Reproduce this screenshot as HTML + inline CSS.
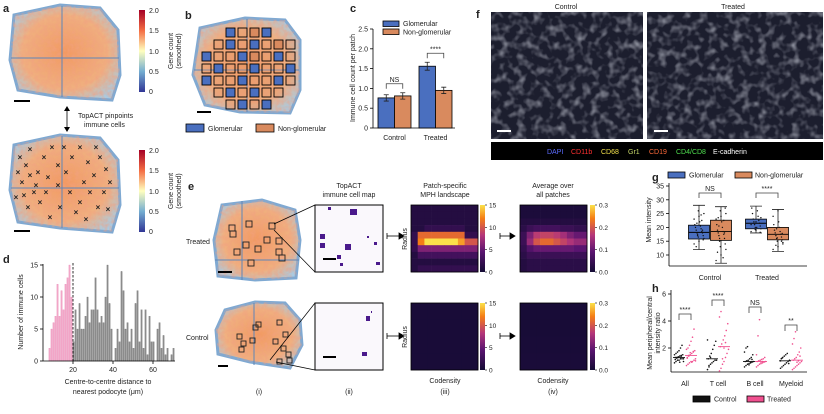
<!DOCTYPE html>
<html><head><meta charset="utf-8"><style>
html,body{margin:0;padding:0;background:#fff;}
svg{display:block;font-family:"Liberation Sans",Arial,sans-serif;}
text{fill:#222;}
</style></head><body>
<svg id="fig" width="824" height="414" viewBox="0 0 824 414" xmlns="http://www.w3.org/2000/svg">
<defs>
<linearGradient id="cbar" x1="0" y1="1" x2="0" y2="0">
<stop offset="0" stop-color="#313695"/><stop offset="0.25" stop-color="#74add1"/><stop offset="0.5" stop-color="#ffffbf"/><stop offset="0.75" stop-color="#f46d43"/><stop offset="1" stop-color="#a50026"/></linearGradient>
<linearGradient id="inf" x1="0" y1="1" x2="0" y2="0">
<stop offset="0" stop-color="#140b34"/><stop offset="0.3" stop-color="#5a1470"/><stop offset="0.55" stop-color="#b5367a"/><stop offset="0.8" stop-color="#f57d15"/><stop offset="1" stop-color="#fbe14a"/></linearGradient>
<radialGradient id="tis" cx="0.5" cy="0.5" r="0.6"><stop offset="0" stop-color="#f29a62"/><stop offset="0.65" stop-color="#f0b080"/><stop offset="1" stop-color="#a9cbe3"/></radialGradient>
<filter id="tex" x="0" y="0" width="1" height="1"><feTurbulence type="fractalNoise" baseFrequency="0.12" numOctaves="2" seed="3"/><feColorMatrix type="matrix" values="0 0 0 0 0.7  0 0 0 0 0.72  0 0 0 0 0.8  0 0 0 2.2 -1.0"/></filter>
<filter id="tex2" x="0" y="0" width="1" height="1"><feTurbulence type="fractalNoise" baseFrequency="0.25" numOctaves="2" seed="7"/><feColorMatrix type="matrix" values="0 0 0 0 0.88  0 0 0 0 0.35  0 0 0 0 0.22  0 0 0 1.6 -0.55"/></filter>
<clipPath id="clipA1"><polygon points="14,15 60,5 100,8 118,30 120,75 112,100 60,97 18,90 10,60"/></clipPath>
<clipPath id="clipA2"><polygon points="14,145 60,135 100,138 118,160 120,205 112,232 60,228 18,222 10,190"/></clipPath>
<clipPath id="clipB"><polygon points="200,28 245,18 285,20 300,40 300,90 290,113 240,112 205,105 193,75"/></clipPath>
<clipPath id="clipE1"><polygon points="222,205 262,200 295,210 300,240 296,278 255,280 218,276 214,240"/></clipPath>
<clipPath id="clipE2"><polygon points="225,310 255,302 285,303 300,320 302,345 290,368 250,362 218,354 216,330"/></clipPath>
</defs>

<!-- Panel a -->
<text x="3" y="12" font-size="11" font-weight="bold">a</text>
<g>
<polygon points="14,15 60,5 100,8 118,30 120,75 112,100 60,97 18,90 10,60" fill="url(#tis)" stroke="#7fa9d2" stroke-width="3"/>
<rect x="0" y="0" width="130" height="110" filter="url(#tex2)" clip-path="url(#clipA1)" opacity="0.75"/>
<line x1="62" y1="6" x2="62" y2="97" stroke="#5e86b8" stroke-width="1"/><line x1="11" y1="58" x2="119" y2="58" stroke="#5e86b8" stroke-width="1"/>
</g>
<line x1="14" y1="101" x2="30" y2="101" stroke="#000" stroke-width="2"/>
<g>
<rect x="139" y="10" width="6" height="82" fill="url(#cbar)"/>
<g font-size="7"><text x="149" y="13">2.0</text><text x="149" y="33">1.5</text><text x="149" y="54">1.0</text><text x="149" y="74">0.5</text><text x="149" y="94">0</text></g>
<text transform="translate(173,51) rotate(-90)" font-size="7" text-anchor="middle">Gene count</text>
<text transform="translate(181,51) rotate(-90)" font-size="7" text-anchor="middle">(smoothed)</text>
</g>
<g>
<line x1="67" y1="108" x2="67" y2="130" stroke="#000" stroke-width="0.8"/><polygon points="64,127 70,127 67,132" fill="#000"/><polygon points="64,111 70,111 67,106" fill="#000"/>
<text x="78" y="118" font-size="7">TopACT pinpoints</text><text x="84" y="127" font-size="7">immune cells</text>
</g>
<g>
<polygon points="14,145 60,135 100,138 118,160 120,205 112,232 60,228 18,222 10,190" fill="url(#tis)" stroke="#7fa9d2" stroke-width="3"/>
<rect x="0" y="130" width="130" height="110" filter="url(#tex2)" clip-path="url(#clipA2)" opacity="0.75"/>
<line x1="62" y1="136" x2="62" y2="228" stroke="#5e86b8"/><line x1="11" y1="188" x2="119" y2="188" stroke="#5e86b8"/>
<g id="crosses" font-size="8" font-weight="bold"></g>
</g>
<line x1="14" y1="231" x2="30" y2="231" stroke="#000" stroke-width="2"/>
<g>
<rect x="139" y="150" width="6" height="82" fill="url(#cbar)"/>
<g font-size="7"><text x="149" y="153">2.0</text><text x="149" y="173">1.5</text><text x="149" y="194">1.0</text><text x="149" y="214">0.5</text><text x="149" y="234">0</text></g>
<text transform="translate(173,191) rotate(-90)" font-size="7" text-anchor="middle">Gene count</text>
<text transform="translate(181,191) rotate(-90)" font-size="7" text-anchor="middle">(smoothed)</text>
</g>

<!-- Panel b -->
<text x="185" y="19" font-size="11" font-weight="bold">b</text>
<g>
<polygon points="200,28 245,18 285,20 300,40 300,90 290,113 240,112 205,105 193,75" fill="url(#tis)" stroke="#7fa9d2" stroke-width="3"/>
<rect x="190" y="15" width="115" height="100" filter="url(#tex2)" clip-path="url(#clipB)" opacity="0.75"/>
<line x1="247" y1="19" x2="247" y2="112" stroke="#5e86b8"/><line x1="194" y1="70" x2="299" y2="70" stroke="#5e86b8"/>
<g id="bsquares"></g>
</g>
<line x1="197" y1="112" x2="211" y2="112" stroke="#000" stroke-width="2"/>
<g>
<rect x="186" y="124" width="18" height="8" fill="#4a6fbf" stroke="#000" stroke-width="0.8"/><text x="208" y="131" font-size="7">Glomerular</text>
<rect x="256" y="124" width="18" height="8" fill="#d98a5e" stroke="#000" stroke-width="0.8"/><text x="278" y="131" font-size="7">Non-glomerular</text>
</g>

<!-- Panel c -->
<text x="350" y="12" font-size="11" font-weight="bold">c</text>
<g id="chartC"></g>

<!-- Panel f -->
<text x="476" y="18" font-size="11" font-weight="bold">f</text>
<text x="566" y="9" font-size="7" text-anchor="middle">Control</text>
<text x="733" y="9" font-size="7" text-anchor="middle">Treated</text>
<g>
<rect x="491" y="12" width="152" height="127" fill="#1c1e2e"/>
<rect x="491" y="12" width="152" height="127" filter="url(#tex)" opacity="0.6"/>
<rect x="497" y="130" width="14" height="2" fill="#fff"/>
</g>
<g>
<rect x="647" y="12" width="176" height="127" fill="#1c1e2e"/>
<rect x="647" y="12" width="176" height="127" filter="url(#tex)" opacity="0.6"/>
<rect x="654" y="130" width="14" height="2" fill="#fff"/>
</g>
<g font-size="7">
<rect x="491" y="142" width="332" height="18" fill="#000"/>
<text x="547" y="154" style="fill:#5c6cff">DAPI</text>
<text x="571" y="154" style="fill:#ff3030">CD11b</text>
<text x="601" y="154" style="fill:#f2e04a">CD68</text>
<text x="628" y="154" style="fill:#c8d96a">Gr1</text>
<text x="649" y="154" style="fill:#ff6a3a">CD19</text>
<text x="676" y="154" style="fill:#4fe04f">CD4/CD8</text>
<text x="713" y="154" style="fill:#ffffff">E-cadherin</text>
</g>

<!-- Panel d -->
<text x="3" y="263" font-size="11" font-weight="bold">d</text>
<g id="chartD"></g>

<!-- Panel e -->
<text x="188" y="190" font-size="11" font-weight="bold">e</text>
<g font-size="7" text-anchor="middle">
<text x="349" y="188">TopACT</text><text x="349" y="197">immune cell map</text>
<text x="445" y="188">Patch-specific</text><text x="445" y="197">MPH landscape</text>
<text x="553" y="188">Average over</text><text x="553" y="197">all patches</text>
<text x="445" y="383">Codensity</text><text x="553" y="383">Codensity</text>
<text x="259" y="394">(i)</text><text x="349" y="394">(ii)</text><text x="445" y="394">(iii)</text><text x="553" y="394">(iv)</text>
</g>
<text x="186" y="244" font-size="7">Treated</text>
<text x="186" y="340" font-size="7">Control</text>
<g>
<polygon points="222,205 262,200 295,210 300,240 296,278 255,280 218,276 214,240" fill="url(#tis)" stroke="#7fa9d2" stroke-width="3"/>
<rect x="210" y="195" width="95" height="90" filter="url(#tex2)" clip-path="url(#clipE1)" opacity="0.75"/>
<line x1="242" y1="201" x2="242" y2="280" stroke="#5e86b8"/><line x1="215" y1="260" x2="299" y2="260" stroke="#5e86b8"/>
<g fill="none" stroke="#222" stroke-width="0.9"><rect x="229" y="225" width="6" height="6"/><rect x="246" y="221" width="6" height="6"/><rect x="269" y="223" width="6" height="6"/><rect x="243" y="242" width="6" height="6"/><rect x="264" y="237" width="6" height="6"/><rect x="276" y="238" width="6" height="6"/><rect x="255" y="246" width="6" height="6"/><rect x="234" y="249" width="6" height="6"/><rect x="276" y="249" width="6" height="6"/><rect x="279" y="255" width="6" height="6"/><rect x="248" y="260" width="6" height="6"/><rect x="230" y="231" width="6" height="6"/></g>
<line x1="274" y1="224" x2="315" y2="205" stroke="#000" stroke-width="0.7"/><line x1="274" y1="230" x2="315" y2="272" stroke="#000" stroke-width="0.7"/>
<rect x="218" y="271" width="14" height="2" fill="#000"/>
</g>
<g>
<polygon points="225,310 255,302 285,303 300,320 302,345 290,368 250,362 218,354 216,330" fill="url(#tis)" stroke="#7fa9d2" stroke-width="3"/>
<rect x="210" y="298" width="95" height="75" filter="url(#tex2)" clip-path="url(#clipE2)" opacity="0.75"/>
<line x1="254" y1="303" x2="254" y2="365" stroke="#5e86b8"/>
<g fill="none" stroke="#222" stroke-width="0.9"><rect x="237" y="334" width="5" height="5"/><rect x="241" y="341" width="5" height="5"/><rect x="239" y="347" width="5" height="5"/><rect x="253" y="325" width="5" height="5"/><rect x="256" y="322" width="5" height="5"/><rect x="277" y="320" width="5" height="5"/><rect x="273" y="339" width="5" height="5"/><rect x="283" y="332" width="5" height="5"/><rect x="281" y="346" width="5" height="5"/><rect x="286" y="352" width="5" height="5"/><rect x="277" y="359" width="5" height="5"/><rect x="287" y="358" width="5" height="5"/><rect x="250" y="338" width="5" height="5"/></g>
<line x1="270" y1="360" x2="315" y2="303" stroke="#000" stroke-width="0.7"/><line x1="276" y1="362" x2="315" y2="370" stroke="#000" stroke-width="0.7"/>
<rect x="218" y="365" width="10" height="2" fill="#000"/>
</g>
<g>
<rect x="315" y="205" width="68" height="67" fill="#faf8fc" stroke="#000" stroke-width="1"/>
<g fill="#4a1a8c"><rect x="328" y="207" width="3" height="3"/><rect x="350" y="209" width="7" height="6"/><rect x="320" y="234" width="5" height="5"/><rect x="320" y="243" width="5" height="5"/><rect x="345" y="244" width="6" height="6"/><rect x="337" y="255" width="4" height="4"/><rect x="374" y="242" width="3" height="3"/><rect x="376" y="262" width="4" height="3"/><rect x="340" y="263" width="3" height="3"/><rect x="367" y="236" width="2" height="2"/></g>
<rect x="323" y="258" width="13" height="2" fill="#000"/>
</g>
<g>
<rect x="315" y="303" width="68" height="67" fill="#faf8fc" stroke="#000" stroke-width="1"/>
<g fill="#4a1a8c"><rect x="366" y="316" width="4" height="5"/><rect x="362" y="352" width="5" height="4"/><rect x="371" y="311" width="1" height="2"/></g>
<rect x="323" y="356" width="13" height="2" fill="#000"/>
</g>
<g stroke="#000" stroke-width="0.8">
<line x1="387" y1="236" x2="402" y2="236"/><line x1="387" y1="233" x2="387" y2="239"/><polygon points="399,233 404,236 399,239" fill="#000"/>
<line x1="387" y1="336" x2="402" y2="336"/><line x1="387" y1="333" x2="387" y2="339"/><polygon points="399,333 404,336 399,339" fill="#000"/>
<line x1="500" y1="236" x2="512" y2="236"/><line x1="500" y1="233" x2="500" y2="239"/><polygon points="510,233 515,236 510,239" fill="#000"/>
<line x1="500" y1="336" x2="512" y2="336"/><line x1="500" y1="333" x2="500" y2="339"/><polygon points="510,333 515,336 510,339" fill="#000"/>
</g>
<text transform="translate(407,239) rotate(-90)" font-size="7" text-anchor="middle">Radius</text>
<text transform="translate(407,337) rotate(-90)" font-size="7" text-anchor="middle">Radius</text>
<g id="heatmaps"></g>

<!-- Panel g -->
<text x="652" y="181" font-size="11" font-weight="bold">g</text>
<g id="chartG"></g>

<!-- Panel h -->
<text x="652" y="292" font-size="11" font-weight="bold">h</text>
<g id="chartH"></g>
</svg>
<script>
const NS='http://www.w3.org/2000/svg';
function mk(parent,tag,attrs,txt){const e=document.createElementNS(NS,tag);for(const k in attrs)e.setAttribute(k,attrs[k]);if(txt!==undefined)e.textContent=txt;parent.appendChild(e);return e;}

// ---------- decorative tissue marks ----------
const crossPts=[[20,160],[26,168],[30,152],[38,175],[22,185],[34,195],[44,160],[48,180],[40,205],[28,210],[52,150],[58,168],[66,175],[72,160],[80,150],[88,165],[94,178],[100,160],[106,172],[70,195],[80,205],[90,195],[98,210],[60,210],[50,220],[36,188],[16,200],[24,198],[76,215],[86,222],[104,195],[110,185],[64,150],[46,195],[30,178],[58,188],[84,185],[96,150],[108,212],[18,175]];
const cg=document.getElementById('crosses');
crossPts.forEach(p=>{const t=mk(cg,'text',{x:p[0],y:p[1],'text-anchor':'middle'},'×');

});
const bpat=['..GONG..','.OGOGONO','GOOGNOGO','OGOOGOOG','GOOGOOGO','.OGOGOO.','..OGOG..'];
const bs=document.getElementById('bsquares');
bpat.forEach((row,r)=>{for(let c=0;c<row.length;c++){const ch=row[c];if(ch==='.')continue;
const r2=mk(bs,'rect',{x:202+c*12,y:28+r*12,width:9,height:9,fill:ch==='G'?'#4a6fbf':(ch==='N'?'#d98a5e':'#e0946a'),stroke:'#000','stroke-width':0.9,'fill-opacity':ch==='O'?0.35:1});

}});

// ---------- chart c ----------
const cCategories=['Control','Treated'];
const cSeries=['Glomerular','Non-glomerular'];
const cGlom=[0.76,1.56];
const cNonGlom=[0.81,0.95];
const cErrGlom=[0.08,0.1];
const cErrNon=[0.08,0.08];
const cTicks=[0,0.5,1.0,1.5,2.0,2.5];
const cSig=['NS','****'];
(function(){
 const g=document.getElementById('chartC');
 const x0=373,x1=455,yb=128,yt=29;
 const ys=v=>yb-(v/2.5)*(yb-yt);
 mk(g,'line',{x1:x0,y1:yt,x2:x0,y2:yb,stroke:'#000','stroke-width':0.8});
 mk(g,'line',{x1:x0,y1:yb,x2:x1,y2:yb,stroke:'#000','stroke-width':0.8});
 cTicks.forEach(t=>{mk(g,'line',{x1:x0-3,y1:ys(t),x2:x0,y2:ys(t),stroke:'#000','stroke-width':0.8});
  const tl=mk(g,'text',{x:x0-5,y:ys(t)+2.5,'font-size':7,'text-anchor':'end'},t===0?'0':t.toFixed(1));
  
  });
 const yl=mk(g,'text',{transform:'translate(355,78) rotate(-90)','font-size':7,'text-anchor':'middle'},'Immune cell count per patch');
 
 
 const cw=(x1-x0)/cCategories.length, bw=16.5;
 cCategories.forEach((c,i)=>{
  const cx=x0+cw*i+cw/2+1;
  [[cGlom,cErrGlom,'#4a6fbf',-bw],[cNonGlom,cErrNon,'#d98a5e',0]].forEach((s,j)=>{
   const v=s[0][i],e=s[1][i],bx=cx+s[3];
   const b=mk(g,'rect',{x:bx,y:ys(v),width:bw,height:yb-ys(v),fill:s[2],stroke:'#000','stroke-width':0.8});
   
   
   const m=bx+bw/2;
   mk(g,'path',{d:`M${m},${ys(v+e)}V${ys(v-e)}M${m-2.5},${ys(v+e)}H${m+2.5}M${m-2.5},${ys(v-e)}H${m+2.5}`,stroke:'#222','stroke-width':0.8,fill:'none'});
  });
  const top=Math.max(cGlom[i]+cErrGlom[i],cNonGlom[i]+cErrNon[i]);
  const by=ys(top)-9;
  mk(g,'path',{d:`M${cx-bw/2},${by+5}V${by}H${cx+bw/2}V${by+5}`,stroke:'#444','stroke-width':0.8,fill:'none'});
  const st=mk(g,'text',{x:cx,y:by-2,'font-size':7,'text-anchor':'middle'},cSig[i]);
  
  
  const xl=mk(g,'text',{x:cx,y:140,'font-size':7,'text-anchor':'middle'},c);
  
  
 });
 const lg=mk(g,'g',{});
 
 
 mk(lg,'rect',{x:383,y:21,width:16,height:5.5,fill:'#4a6fbf',stroke:'#000','stroke-width':0.8});
 mk(lg,'text',{x:403,y:26,'font-size':7},cSeries[0]);
 mk(lg,'rect',{x:383,y:29,width:16,height:5.5,fill:'#d98a5e',stroke:'#000','stroke-width':0.8});
 mk(lg,'text',{x:403,y:34.5,'font-size':7},cSeries[1]);
})();

// ---------- chart d ----------
const dBins=[8,9,10,11,12,13,14,15,16,17,18,19,20,21,22,23,24,25,26,27,28,29,30,31,32,33,34,35,36,37,38,39,40,41,42,43,44,45,46,47,48,49,50,51,52,53,54,55,56,57,58,59,60,61,62,63,64,65,66,67,68,69,70];
const dCounts=[2,5,6,7,12,7,11,8,12,13,15,10,3,8,5,9,5,5,7,10,6,8,8,13,8,6,7,6,10,15,9,5,0,2,5,3,14,11,5,6,3,5,2,9,11,3,8,2,8,1,7,3,3,0,5,6,2,4,1,2,0,1,2];
const dXTicks=[20,40,60];
const dYTicks=[0,5,10,15];
const dThreshold=20;
(function(){
 const g=document.getElementById('chartD');
 const xs=v=>73+(v-20)*2.0, ys=v=>361-v*6.4;
 dBins.forEach((b,i)=>{const v=dCounts[i];
  const r=mk(g,'rect',{x:xs(b)-0.1,y:ys(v),width:1.3,height:361-ys(v),fill:b<dThreshold?'#f2a6c8':'#8c8c8c',stroke:b<dThreshold?'#e47aac':'#666','stroke-width':0.25});
  
  });
 mk(g,'line',{x1:43,y1:264,x2:43,y2:361,stroke:'#000','stroke-width':0.8});
 mk(g,'line',{x1:43,y1:361,x2:175,y2:361,stroke:'#000','stroke-width':0.8});
 mk(g,'line',{x1:xs(dThreshold),y1:263,x2:xs(dThreshold),y2:361,stroke:'#000','stroke-width':0.8,'stroke-dasharray':'2.5,1.5'});
 dYTicks.forEach(t=>{mk(g,'line',{x1:40,y1:ys(t),x2:43,y2:ys(t),stroke:'#000','stroke-width':0.8});
  const tl=mk(g,'text',{x:38,y:ys(t)+2.5,'font-size':7,'text-anchor':'end'},t);
  
  });
 dXTicks.forEach(t=>{mk(g,'line',{x1:xs(t),y1:361,x2:xs(t),y2:364,stroke:'#000','stroke-width':0.8});
  const tl=mk(g,'text',{x:xs(t),y:372,'font-size':7,'text-anchor':'middle'},t);
  
  });
 const yl=mk(g,'text',{transform:'translate(23,312) rotate(-90)','font-size':7,'text-anchor':'middle'},'Number of immune cells');
 
 
 const xl=mk(g,'text',{x:108,y:384,'font-size':7,'text-anchor':'middle'},'Centre-to-centre distance to');
 
 
 mk(g,'text',{x:108,y:394,'font-size':7,'text-anchor':'middle'},'nearest podocyte (μm)');
})();

// ---------- heatmaps e ----------
const hmTreatedIII=[
[1,1,1,1,1,1,1,1,1,1],[1,1,1,1,1,1,1,1,1,1],[1,1,1,1,1,1,1,1,1,1],
[1,1,2,2,2,2,2,2,1,1],[2,11,11,11,11,11,11,11,2,2],[2,12,15,15,15,15,15,13,10,10],
[2,6,6,6,6,6,6,6,6,6],[1,3,3,3,3,3,3,3,3,3],[1,1,1,1,1,1,1,1,1,1],[1,2,2,2,2,2,2,2,2,2]];
const hmTreatedIV=[
[0.01,0.01,0.01,0.01,0.01,0.01,0.01,0.01,0.01,0.01],[0.01,0.01,0.01,0.01,0.01,0.01,0.01,0.01,0.01,0.01],
[0.02,0.02,0.02,0.02,0.02,0.02,0.02,0.02,0.02,0.02],[0.03,0.05,0.06,0.06,0.06,0.06,0.05,0.05,0.04,0.04],
[0.05,0.12,0.17,0.18,0.18,0.17,0.15,0.12,0.1,0.1],[0.05,0.14,0.2,0.22,0.22,0.2,0.18,0.16,0.14,0.14],
[0.04,0.08,0.1,0.1,0.1,0.1,0.1,0.1,0.09,0.09],[0.03,0.05,0.05,0.05,0.05,0.05,0.05,0.05,0.05,0.05],
[0.02,0.03,0.03,0.03,0.03,0.03,0.03,0.03,0.03,0.03],[0.02,0.03,0.03,0.03,0.03,0.03,0.03,0.03,0.03,0.03]];
const hmControlIII=[[0.3,0.3,0.3,0.3],[0.3,0.3,0.3,0.3],[0.3,0.3,0.3,0.3],[0.3,0.3,0.3,0.3]];
const hmControlIV=[[0.005,0.005,0.005,0.005],[0.005,0.005,0.005,0.005],[0.006,0.006,0.006,0.006],[0.008,0.008,0.008,0.008]];
const cbTicksIII=[0,5,10,15];
const cbTicksIV=[0,0.1,0.2,0.3];
function infColor(t){
 const st=[[0,[20,11,52]],[0.3,[90,20,112]],[0.55,[181,54,122]],[0.8,[245,125,21]],[1,[251,225,74]]];
 t=Math.max(0,Math.min(1,t));
 for(let i=1;i<st.length;i++){if(t<=st[i][0]){const a=st[i-1],b=st[i],f=(t-a[0])/(b[0]-a[0]);
  return 'rgb('+a[1].map((c,k)=>Math.round(c+(b[1][k]-c)*f)).join(',')+')';}}
 return 'rgb(251,225,74)';}
(function(){
 const g=document.getElementById('heatmaps');
 function heat(data,x,y,w,h,vmax,name){
  const rows=data.length,cols=data[0].length;
  data.forEach((row,r)=>row.forEach((v,c)=>{
   const cell=mk(g,'rect',{x:x+c*w/cols,y:y+r*h/rows,width:w/cols+0.3,height:h/rows+0.3,fill:infColor(v/vmax)});
   
   }));
  mk(g,'rect',{x:x,y:y,width:w,height:h,fill:'none',stroke:'#000','stroke-width':0.8});
 }
 function cbar(x,y,h,ticks,vmax,dec){
  const cb=mk(g,'rect',{x:x,y:y,width:5,height:h,fill:'url(#inf)'});
  
  
  ticks.forEach(t=>{const ty=y+h-(t/vmax)*h;
   mk(g,'line',{x1:x+5,y1:ty,x2:x+7,y2:ty,stroke:'#000','stroke-width':0.6});
   const tl=mk(g,'text',{x:x+9,y:ty+2.5,'font-size':6.5},dec?t.toFixed(1):t);
   
   });
 }
 heat(hmTreatedIII,411,205,67,67,15,'mph-treated');
 heat(hmControlIII,411,303,67,67,15,'mph-control');
 heat(hmTreatedIV,520,205,67,67,0.3,'avg-treated');
 heat(hmControlIV,520,303,67,67,0.3,'avg-control');
 cbar(480,205,67,cbTicksIII,15,false);cbar(480,303,67,cbTicksIII,15,false);
 cbar(590,205,67,cbTicksIV,0.3,true);cbar(590,303,67,cbTicksIV,0.3,true);
})();

// ---------- chart g ----------
const gCategories=['Control','Treated'];
const gMedian=[[18.2,18.5],[21.5,17.5]];
const gQ1=[[15.8,15.3],[19.5,15.5]];
const gQ3=[[20.8,22.6],[23.0,20.0]];
const gWlo=[[12,7],[18,11.3]];
const gWhi=[[28,27.5],[27.7,26.5]];
const gTicks=[10,15,20,25,30,35];
const gSig=['NS','****'];
const gPtsCG=[14,15,16,16.5,17,17.5,18,18,18.5,19,19.5,20,20.5,21,22,23,24,25,26,15.5,17,19,21.5,22.5,13,24.5];
const gPtsCN=[8,10,12,13,14,15,16,17,17.5,18,18.5,19,20,21,22,23,24,25,26,27,16,18,20.5,22.5,23.5,9,11];
const gPtsTG=[18.5,19,19.5,20,20.5,21,21.5,22,22.5,23,24,25,26,27,20,21,22,23.5,19.2,18.2];
const gPtsTN=[12,13,14,15,15.5,16,16.5,17,17.5,18,18.5,19,20,21,22,24,26,14.5,16.2,17.8,19.5,15,13.5];
(function(){
 const g=document.getElementById('chartG');
 const x0=669,x1=807,yb=266,ys=v=>255-(v-10)*(69/25);
 mk(g,'line',{x1:x0,y1:183,x2:x0,y2:yb,stroke:'#000','stroke-width':0.8});
 mk(g,'line',{x1:x0,y1:yb,x2:x1,y2:yb,stroke:'#000','stroke-width':0.8});
 gTicks.forEach(t=>{mk(g,'line',{x1:x0-3,y1:ys(t),x2:x0,y2:ys(t),stroke:'#000','stroke-width':0.8});
  const tl=mk(g,'text',{x:x0-5,y:ys(t)+2.5,'font-size':7,'text-anchor':'end'},t);
  
  });
 const yl=mk(g,'text',{transform:'translate(651,220) rotate(-90)','font-size':7,'text-anchor':'middle'},'Mean intensity');
 
 
 const pts=[[gPtsCG,gPtsCN],[gPtsTG,gPtsTN]];
 const centers=[710,767], bw=21;
 gCategories.forEach((c,i)=>{
  [0,1].forEach(j=>{
   const bx=centers[i]+(j?0.5:-bw-0.5), m=bx+bw/2;
   const col=j?'#d98a5e':'#4a6fbf';
   mk(g,'path',{d:`M${m},${ys(gWhi[i][j])}V${ys(gWlo[i][j])}M${m-6},${ys(gWhi[i][j])}H${m+6}M${m-6},${ys(gWlo[i][j])}H${m+6}`,stroke:'#222','stroke-width':0.8,fill:'none'});
   const b=mk(g,'rect',{x:bx,y:ys(gQ3[i][j]),width:bw,height:ys(gQ1[i][j])-ys(gQ3[i][j]),fill:col,stroke:'#000','stroke-width':0.8});
   
   
   mk(g,'line',{x1:bx,y1:ys(gMedian[i][j]),x2:bx+bw,y2:ys(gMedian[i][j]),stroke:'#000','stroke-width':0.9});
   pts[i][j].forEach((v,k)=>{const d=mk(g,'circle',{cx:m+((k*37)%15-7)*0.7,cy:ys(v),r:0.7,fill:'#111'});
    
    });
  });
  const cx=centers[i];
  mk(g,'path',{d:`M${cx-11},${198}V${193}H${cx+11}V${198}`,stroke:'#444','stroke-width':0.8,fill:'none'});
  const st=mk(g,'text',{x:cx,y:191,'font-size':7,'text-anchor':'middle'},gSig[i]);
  
  
  const xl=mk(g,'text',{x:cx,y:280,'font-size':7,'text-anchor':'middle'},c);
  
  
 });
 const lg=mk(g,'g',{});
 
 
 mk(lg,'rect',{x:668,y:172,width:17,height:6,fill:'#4a6fbf',stroke:'#000','stroke-width':0.8});
 mk(lg,'text',{x:689,y:177.5,'font-size':7},'Glomerular');
 mk(lg,'rect',{x:735,y:172,width:17,height:6,fill:'#d98a5e',stroke:'#000','stroke-width':0.8});
 mk(lg,'text',{x:755,y:177.5,'font-size':7},'Non-glomerular');
})();

// ---------- chart h ----------
const hCategories=['All','T cell','B cell','Myeloid'];
const hTicks=[2,4,6];
const hSig=['****','****','NS','**'];
const hControl=[
[0.9,1.0,1.1,1.1,1.2,1.2,1.2,1.3,1.3,1.3,1.4,1.4,1.5,1.5,1.6,1.7,1.8,2.0,2.2,1.0,1.15,1.25,1.35,0.95,1.45],
[0.4,0.6,0.8,0.9,1.0,1.1,1.1,1.2,1.4,1.6,1.9,2.2,2.5,2.6,0.7,1.3],
[0.6,0.7,0.8,0.85,0.9,0.95,1.0,1.0,1.05,1.1,1.2,1.3,1.5,1.7,2.0,2.1,0.75,0.9,1.15],
[0.5,0.6,0.7,0.8,0.9,1.0,1.1,1.2,1.3,1.4,1.5,1.6,0.85,1.05,1.25]];
const hTreated=[
[0.7,0.8,0.9,1.0,1.0,1.1,1.2,1.3,1.4,1.5,1.6,1.7,1.8,1.9,2.0,2.2,2.5,2.8,3.4,1.05,1.25,1.45,1.65,0.95,1.75],
[0.3,0.5,0.8,1.0,1.3,1.6,1.9,2.1,2.3,2.6,2.9,3.3,3.8,4.3,4.7,1.2,2.0,2.4],
[0.6,0.7,0.8,0.85,0.9,0.95,1.0,1.0,1.05,1.1,1.15,1.2,1.3,1.5,2.9,4.1,0.9,1.0],
[0.4,0.5,0.6,0.7,0.8,0.9,1.0,1.1,1.2,1.3,1.5,1.7,2.0,2.3,2.7,3.2,0.95,1.05,1.4]];
(function(){
 const g=document.getElementById('chartH');
 const x0=671,x1=807,yb=372,ys=v=>348-(v-2)*(27/2);
 mk(g,'line',{x1:x0,y1:290,x2:x0,y2:yb,stroke:'#000','stroke-width':0.8});
 mk(g,'line',{x1:x0,y1:yb,x2:x1,y2:yb,stroke:'#000','stroke-width':0.8});
 hTicks.forEach(t=>{mk(g,'line',{x1:x0-3,y1:ys(t),x2:x0,y2:ys(t),stroke:'#000','stroke-width':0.8});
  const tl=mk(g,'text',{x:x0-5,y:ys(t)+2.5,'font-size':7,'text-anchor':'end'},t);
  
  });
 const yl=mk(g,'text',{transform:'translate(652,333) rotate(-90)','font-size':7,'text-anchor':'middle'},'Mean peripheral/central');
 
 
 mk(g,'text',{transform:'translate(660,333) rotate(-90)','font-size':7,'text-anchor':'middle'},'intensity ratio');
 const centers=[685,718,755,791];
 hCategories.forEach((c,i)=>{
  const cx=centers[i];
  [[hControl[i],'#111',-6],[hTreated[i],'#f0508f',6]].forEach((s,j)=>{
   const arr=s[0],m=cx+s[2];
   arr.forEach((v,k)=>{const d=mk(g,'circle',{cx:m+((k*41)%13-6)*0.75,cy:ys(v),r:0.8,fill:s[1]});
    
    });
   const sorted=arr.slice().sort((a,b)=>a-b),med=sorted[Math.floor(sorted.length/2)];
   mk(g,'line',{x1:m-6,y1:ys(med),x2:m+6,y2:ys(med),stroke:s[1],'stroke-width':0.9});
  });
  let by=[314,300,307,325][i];
  mk(g,'path',{d:`M${cx-6},${by+6}V${by}H${cx+6}V${by+6}`,stroke:'#444','stroke-width':0.8,fill:'none'});
  const st=mk(g,'text',{x:cx,y:by-2,'font-size':7,'text-anchor':'middle'},hSig[i]);
  
  
  const xl=mk(g,'text',{x:cx,y:386,'font-size':7,'text-anchor':'middle'},c);
  
  
 });
 const lg=mk(g,'g',{});
 
 
 mk(lg,'rect',{x:693,y:396,width:17,height:6,fill:'#111',stroke:'#000','stroke-width':0.8});
 mk(lg,'text',{x:714,y:401.5,'font-size':7},'Control');
 mk(lg,'rect',{x:747,y:396,width:17,height:6,fill:'#f0508f',stroke:'#000','stroke-width':0.8});
 mk(lg,'text',{x:767,y:401.5,'font-size':7},'Treated');
})();
</script>
</body></html>
